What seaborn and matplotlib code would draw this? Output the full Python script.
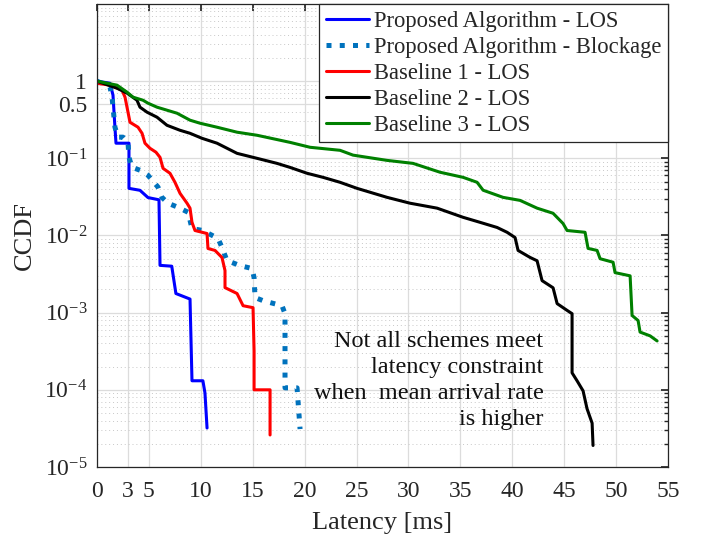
import numpy as np
import pandas as pd
import matplotlib
matplotlib.use("Agg")
import matplotlib.pyplot as plt
import seaborn as sns
from matplotlib.ticker import FixedLocator, FixedFormatter, LogLocator, NullFormatter

# ---- data ----
prop_los_x = [0, 1.25, 1.54, 1.73, 1.83, 3.08, 3.08, 4.14, 4.91, 5.97, 6.07, 7.2, 7.6, 8.96, 9.15, 10.2, 10.4, 10.6]
prop_los_y = [1.0, 0.94, 0.66, 0.25, 0.157, 0.157, 0.0408, 0.0385, 0.031, 0.029, 0.0041, 0.0040, 0.00177, 0.0015, 1.31e-4, 1.31e-4, 9.1e-5, 3.2e-5]

prop_blk_x = [0, 1.25, 1.45, 1.73, 2.02, 2.5, 2.99, 3.08, 3.37, 4.14, 4.91, 5.88, 6.26, 6.84, 7.8, 8.77, 9.15, 10.2,
              11.66, 12.04, 12.52, 13.78, 14.93, 15.13, 15.22, 15.99, 17.82, 18.11, 18.11, 19.27, 19.56]
prop_blk_y = [1.0, 0.836, 0.62, 0.253, 0.188, 0.188, 0.157, 0.103, 0.0765, 0.0701, 0.0603, 0.0423, 0.0311, 0.0262,
              0.0232, 0.0200, 0.0123, 0.0116, 0.00914, 0.00698, 0.00473, 0.00407, 0.00373, 0.00285, 0.00157, 0.00143,
              0.00123, 0.00097, 1.06e-4, 1.06e-4, 3.1e-5]

base1_x = [0, 1.25, 2.41, 2.70, 2.89, 3.18, 3.95, 4.34, 4.62, 5.1, 5.68, 6.07, 6.36, 7.03, 7.51, 8.0, 8.67, 8.96,
           9.15, 9.44, 10.6, 10.69, 11.37, 12.04, 12.33, 12.33, 13.49, 14.07, 15.03, 15.13, 15.13, 16.67, 16.67]
base1_y = [0.94, 0.887, 0.764, 0.62, 0.46, 0.293, 0.253, 0.211, 0.157, 0.135, 0.12, 0.103, 0.0742, 0.064, 0.0489,
           0.0351, 0.0262, 0.0226, 0.0148, 0.0116, 0.0106, 0.00678, 0.0064, 0.00518, 0.00351, 0.00211, 0.00177,
           0.00123, 0.00116, 3.2e-4, 1.0e-4, 1.0e-4, 2.6e-5]

base2_x = [0, 1.93, 2.89, 3.85, 4.14, 4.82, 5.78, 6.74, 7.99, 8.96, 10.1, 11.56, 13.49, 15.41, 17.34, 18.59, 20.23,
           21.77, 23.41, 25.05, 27.94, 30.15, 32.76, 35.26, 36.9, 38.54, 39.5, 40.27, 40.56, 41.71, 42.39, 42.87,
           43.93, 44.32, 45.28, 45.76, 45.76, 46.24, 46.82, 47.2, 47.69, 47.78]
base2_y = [1.0, 0.81, 0.70, 0.566, 0.46, 0.396, 0.341, 0.268, 0.231, 0.211, 0.182, 0.157, 0.116, 0.1, 0.086, 0.0763,
           0.064, 0.0567, 0.0489, 0.0408, 0.0312, 0.0262, 0.0226, 0.0172, 0.0148, 0.0127, 0.011, 0.0094, 0.0064,
           0.0052, 0.0047, 0.0026, 0.0021, 0.00131, 0.00107, 0.00097, 1.66e-4, 1.31e-4, 9.7e-5, 5.7e-5, 3.7e-5, 1.9e-5]

base3_x = [0, 1.93, 2.89, 3.47, 4.43, 4.91, 5.78, 7.71, 8.96, 9.92, 11.56, 13.49, 15.41, 18.59, 20.52, 23.41, 24.66,
           27.94, 30.44, 33.04, 35.26, 36.61, 37.19, 39.11, 40.75, 42.39, 43.93, 44.89, 45.28, 47.01, 47.3, 48.17,
           48.46, 49.71, 49.9, 51.35, 51.54, 52.12, 52.31, 53.28, 53.95]
base3_y = [1.0, 0.887, 0.72, 0.62, 0.566, 0.518, 0.46, 0.384, 0.312, 0.285, 0.253, 0.218, 0.199, 0.161, 0.139, 0.127,
           0.11, 0.094, 0.086, 0.066, 0.0567, 0.0489, 0.0386, 0.0312, 0.0285, 0.0226, 0.0194, 0.0143, 0.0116, 0.011,
           0.0068, 0.0064, 0.0050, 0.0045, 0.0033, 0.003, 0.00092, 0.00079, 0.00056, 0.00050, 0.00043]

series_labels = ["Proposed Algorithm - LOS", "Proposed Algorithm - Blockage",
                 "Baseline 1 - LOS", "Baseline 2 - LOS", "Baseline 3 - LOS"]
x_ticks = [0, 3, 5, 10, 15, 20, 25, 30, 35, 40, 45, 50, 55]
y_ticks = [1e-5, 1e-4, 1e-3, 1e-2, 1e-1, 0.5, 1]
y_tick_labels = [r"$10^{-5}$", r"$10^{-4}$", r"$10^{-3}$", r"$10^{-2}$", r"$10^{-1}$", "0.5", "1"]
annotation = "Not all schemes meet\nlatency constraint\nwhen  mean arrival rate\nis higher"

# ---- style ----
sns.set_theme(style="white")
plt.rcParams["font.family"] = ["Liberation Serif", "DejaVu Serif"]
plt.rcParams["mathtext.fontset"] = "custom"
plt.rcParams["mathtext.rm"] = "Liberation Serif"
plt.rcParams["mathtext.it"] = "Liberation Serif:italic"

fig = plt.figure(figsize=(7.08, 5.38), dpi=100)
ax = fig.add_axes([0.137, 0.132, 0.8065, 0.8606])
ax.set_yscale("log")

xs = [prop_los_x, prop_blk_x, base1_x, base2_x, base3_x]
ys = [prop_los_y, prop_blk_y, base1_y, base2_y, base3_y]
colors = ["#0000FF", "#0072BD", "#FF0000", "#000000", "#008000"]
styles = ["-", ":", "-", "-", "-"]
widths = [2.2, 3.6, 2.2, 2.2, 2.2]

for x, y, lab, c, ls, lw in zip(xs, ys, series_labels, colors, styles, widths):
    df = pd.DataFrame({"x": x, "y": y})
    sns.lineplot(data=df, x="x", y="y", ax=ax, sort=False, estimator=None,
                 color=c, linestyle=ls, linewidth=lw, label=lab)

ax.set_xlim(0, 55)
ax.set_ylim(1e-5, 10)
ax.xaxis.set_major_locator(FixedLocator(x_ticks))
ax.set_xticklabels([str(t) for t in x_ticks])
ax.yaxis.set_major_locator(FixedLocator(y_ticks))
ax.yaxis.set_major_formatter(FixedFormatter(y_tick_labels))
ax.yaxis.set_minor_locator(LogLocator(base=10, subs=np.arange(2, 10), numticks=20))
ax.yaxis.set_minor_formatter(NullFormatter())

ax.grid(True, which="major", color="#DCDCDC", linewidth=0.9, linestyle="-")
ax.grid(True, which="minor", axis="y", color="#C8C8C8", linewidth=0.7, linestyle=(0, (1, 3)))
ax.set_axisbelow(True)

for s in ax.spines.values():
    s.set_visible(True)
    s.set_color("#262626")
    s.set_linewidth(0.9)
ax.tick_params(which="both", direction="in", top=True, right=True, colors="#262626",
               labelcolor="#262626", labelsize=17)
ax.tick_params(which="major", length=5)
ax.tick_params(which="minor", length=3)
ax.tick_params(axis="x", which="major", pad=10)
ax.tick_params(axis="y", which="major", pad=7)

ax.set_xlabel("Latency [ms]", fontsize=19, color="#262626", labelpad=7)
ax.set_ylabel("CCDF", fontsize=19, color="#262626", labelpad=6)

leg = ax.legend(loc="upper right", borderaxespad=0, fontsize=16.3, frameon=True, fancybox=False,
                handlelength=1.9, labelspacing=0.22, handletextpad=0.2, borderpad=0.3)
leg.get_frame().set_edgecolor("#262626")
leg.get_frame().set_linewidth(0.9)
leg.get_frame().set_alpha(1)

ax.text(43, 5.8e-4, annotation, ha="right", va="top", fontsize=17.5, color="#111111",
        linespacing=1.32)

fig.savefig("out.png", dpi=100)
